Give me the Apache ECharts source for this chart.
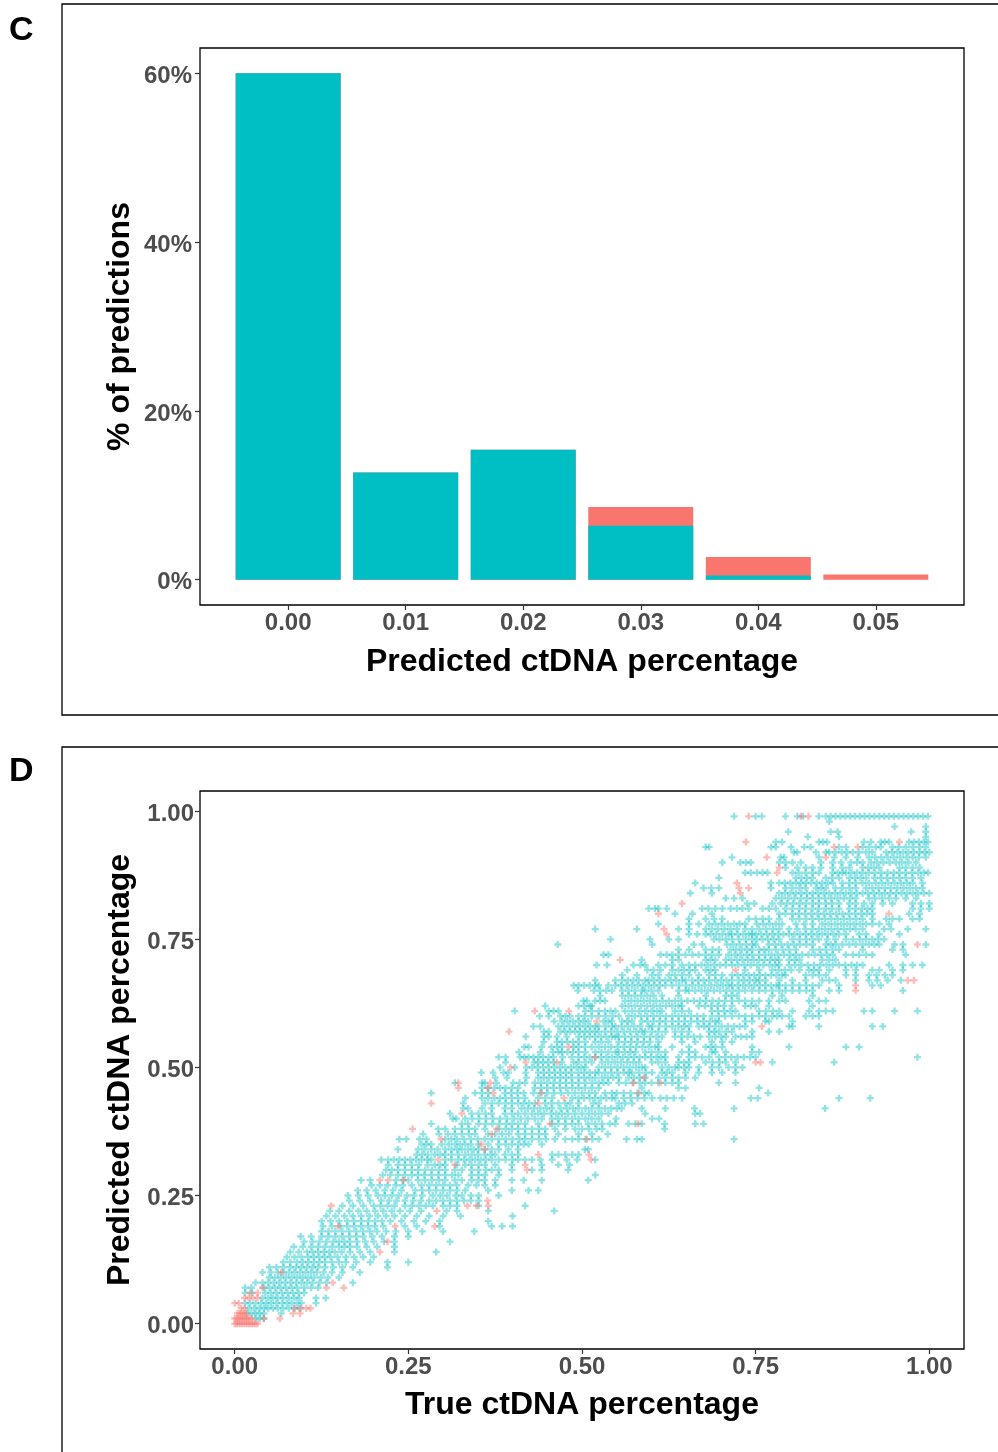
<!DOCTYPE html>
<html>
<head>
<meta charset="utf-8">
<script src="https://cdn.jsdelivr.net/npm/echarts@6/dist/echarts.min.js"></script>
<style>
  html, body { margin: 0; padding: 0; background: #fff; }
  #main { width: 998px; height: 1452px; }
</style>
</head>
<body>
<div id="main"></div>
<script>
// panel C: share of predictions per predicted bin (in %)
var predBins = [0, 0.01, 0.02, 0.03, 0.04, 0.05];
var cyanPct = [60.0, 12.7, 15.4, 6.4, 0.5, 0];
var redPct = [0, 0, 0, 2.2, 2.2, 0.6];
var pctTicks = [0, 20, 40, 60];

// panel D: true vs predicted
// index = predicted value in hundredths, entries = true value in thousandths
var cyanRows = [
  [],
  [30, 36, 42],
  [18, 24, 30, 36, 42, 67],
  [20, 28, 35, 42, 48, 55, 62, 70, 78, 86, 93],
  [15, 22, 30, 38, 45, 52, 60, 68, 75, 82, 90, 96, 117],
  [40, 48, 55, 62, 70, 78, 86, 93, 117, 131],
  [15, 25, 44, 52, 60, 68, 76, 84, 92, 100],
  [15, 24, 42, 50, 58, 66, 74, 82, 90, 100, 110, 120],
  [30, 40, 48, 56, 64, 72, 80, 88, 96, 104, 112, 122, 132, 170],
  [50, 58, 66, 74, 82, 90, 98, 106, 114, 124, 134, 150],
  // 0.10
  [40, 52, 62, 70, 78, 86, 94, 102, 110, 118, 128, 140, 155, 180],
  [50, 60, 70, 80, 88, 96, 104, 112, 120, 130, 142, 155, 170, 220],
  [70, 80, 90, 98, 106, 114, 122, 130, 140, 150, 160, 175, 195, 220, 250],
  [75, 86, 96, 106, 114, 122, 130, 138, 148, 160, 172, 185, 200],
  [80, 92, 104, 112, 120, 128, 136, 144, 154, 166, 180, 195, 230, 290],
  [85, 98, 110, 120, 130, 140, 150, 158, 166, 176, 190, 205, 230],
  [100, 112, 122, 132, 142, 150, 158, 166, 176, 188, 200, 215, 230, 310],
  [95, 110, 125, 135, 145, 155, 165, 175, 185, 198, 212, 230, 250],
  [125, 135, 145, 155, 165, 175, 185, 195, 205, 218, 232, 250, 270, 300, 345],
  [127, 140, 152, 162, 172, 182, 192, 202, 214, 245, 262, 295, 370, 385, 400],
  // 0.20
  [125, 138, 150, 162, 172, 182, 192, 202, 212, 224, 240, 258, 275, 295, 365],
  [132, 145, 158, 170, 182, 194, 206, 218, 230, 245, 262, 280, 300, 325, 400],
  [137, 150, 165, 178, 190, 202, 214, 226, 238, 252, 268, 305, 320, 365, 460],
  [155, 170, 185, 200, 210, 220, 230, 245, 255, 265, 275, 285, 300, 310, 320, 351, 418],
  [165, 180, 195, 211, 222, 233, 245, 257, 268, 280, 290, 300, 310, 320, 330, 340, 351],
  [163, 178, 192, 206, 216, 226, 236, 248, 258, 270, 285, 296, 306, 318, 327, 340, 351, 380],
  [177, 190, 203, 216, 228, 240, 260, 270, 280, 290, 300, 310, 320, 332, 365, 399, 423, 437],
  [197, 209, 220, 232, 242, 255, 269, 280, 290, 300, 310, 320, 336, 348, 360, 375],
  [182, 195, 232, 242, 250, 264, 274, 284, 294, 303, 317, 327, 341, 351, 360, 375, 399, 416, 442, 509],
  [213, 224, 235, 245, 255, 264, 273, 283, 293, 303, 313, 322, 341, 351, 360, 380, 519],
  // 0.30
  [218, 226, 235, 245, 255, 264, 274, 284, 294, 303, 317, 327, 341, 351, 362, 370, 380, 399, 428, 442, 480],
  [221, 235, 245, 255, 265, 278, 288, 296, 303, 320, 332, 341, 351, 360, 375, 399, 442, 466, 482],
  [211, 221, 229, 237, 245, 253, 261, 269, 277, 283, 303, 312, 322, 330, 338, 346, 354, 362, 370, 380, 390, 400, 408, 418, 428, 440, 457, 478, 493, 519],
  [262, 270, 278, 288, 296, 303, 312, 322, 332, 341, 350, 360, 368, 375, 389, 399, 408, 457, 466, 476, 486, 495],
  [235, 264, 273, 283, 292, 303, 312, 320, 327, 336, 344, 351, 360, 370, 380, 394, 408, 504, 509],
  [269, 276, 283, 298, 308, 317, 324, 332, 340, 351, 365, 380, 390, 399, 408, 416, 423, 442],
  [237, 247, 266, 276, 303, 312, 320, 330, 340, 350, 360, 370, 380, 390, 400, 410, 418, 428, 438, 448, 461, 476, 486, 495, 505, 515, 524, 564, 579, 586, 719],
  [271, 294, 307, 317, 327, 337, 346, 365, 375, 385, 395, 408, 418, 428, 438, 447, 466, 495, 514, 537],
  [293, 303, 317, 327, 337, 346, 360, 380, 390, 399, 408, 418, 428, 438, 447, 461, 476, 490, 500, 510, 521, 529, 619],
  [283, 327, 336, 351, 361, 371, 381, 391, 399, 408, 418, 437, 457, 466, 476, 486, 495, 509, 519, 529, 540, 548, 567, 577, 586, 619, 663, 675],
  // 0.40
  [314, 319, 332, 342, 352, 362, 372, 382, 392, 402, 412, 422, 432, 442, 457, 466, 476, 486, 495, 505, 514, 524, 549, 601, 611],
  [310, 341, 351, 361, 370, 389, 399, 408, 418, 428, 437, 445, 455, 463, 471, 480, 490, 500, 510, 519, 528, 538, 591, 663, 670],
  [329, 336, 356, 370, 389, 399, 413, 422, 431, 440, 449, 457, 469, 478, 487, 495, 505, 514, 524, 533, 542, 550, 557, 586, 620, 662, 719, 850],
  [329, 360, 370, 380, 390, 399, 408, 416, 424, 432, 447, 456, 466, 476, 483, 495, 516, 524, 553, 562, 572],
  [332, 356, 365, 374, 382, 390, 399, 408, 418, 437, 447, 457, 486, 495, 503, 511, 519, 527, 535, 543, 548, 560, 570, 580, 590, 601, 613, 622, 632, 644, 743, 753, 870, 915],
  [283, 346, 356, 365, 389, 398, 407, 416, 430, 440, 450, 460, 470, 480, 490, 500, 510, 519, 533, 543, 550, 560, 570, 580, 590, 596, 768],
  [356, 365, 374, 382, 390, 399, 408, 432, 441, 450, 459, 468, 477, 486, 495, 504, 514, 524, 586, 639, 649, 755],
  [317, 356, 360, 377, 401, 410, 418, 432, 441, 450, 459, 468, 477, 486, 495, 505, 515, 524, 531, 538, 553, 563, 573, 583, 591, 600, 610, 620, 630, 639, 697, 721],
  [375, 392, 420, 437, 445, 453, 461, 469, 477, 485, 495, 503, 511, 519, 529, 537, 545, 553, 567, 575, 583, 591, 610, 620, 630, 639, 649, 663],
  [355, 372, 387, 394, 419, 437, 445, 453, 461, 469, 477, 485, 495, 503, 511, 519, 524, 533, 542, 551, 560, 567, 572, 582, 592, 601, 615, 622, 630, 649, 668, 687, 702, 721],
  // 0.50
  [382, 403, 420, 428, 436, 444, 452, 460, 468, 476, 484, 492, 499, 505, 524, 533, 542, 551, 560, 569, 578, 586, 591, 615, 625, 634, 639, 647, 654, 668, 687, 697, 711, 721, 731],
  [390, 431, 437, 444, 451, 459, 471, 488, 495, 505, 514, 529, 538, 547, 556, 565, 574, 582, 601, 610, 620, 639, 647, 654, 678, 688, 698, 707, 721, 774, 863],
  [380, 390, 411, 417, 423, 430, 437, 444, 452, 459, 472, 485, 495, 503, 511, 519, 527, 535, 543, 551, 559, 567, 575, 583, 591, 599, 607, 614, 620, 639, 654, 663, 673, 683, 697, 706, 715, 724, 733, 742, 750, 983],
  [409, 440, 458, 466, 471, 479, 487, 495, 505, 519, 528, 538, 548, 553, 562, 570, 577, 591, 600, 610, 620, 644, 654, 663, 687, 692, 707, 745, 755],
  [417, 423, 442, 456, 464, 471, 488, 495, 504, 514, 524, 533, 542, 551, 560, 569, 578, 587, 596, 605, 610, 630, 654, 678, 685, 692, 702, 745, 798, 880, 899],
  [445, 464, 471, 479, 487, 495, 505, 519, 528, 538, 553, 562, 571, 580, 589, 598, 610, 644, 663, 687, 702, 716],
  [419, 445, 452, 464, 478, 495, 503, 511, 519, 527, 535, 543, 548, 553, 562, 571, 580, 589, 598, 607, 615, 634, 643, 652, 661, 670, 683, 692, 700, 707, 721, 729, 737, 745],
  [445, 452, 469, 476, 483, 490, 497, 504, 511, 518, 524, 533, 542, 551, 560, 569, 578, 586, 591, 601, 610, 620, 634, 644, 654, 683, 690, 697, 707, 716, 745, 769, 784],
  [430, 440, 466, 474, 482, 490, 497, 505, 512, 519, 524, 534, 543, 548, 557, 566, 575, 584, 596, 601, 611, 621, 630, 639, 647, 654, 668, 676, 683, 692, 701, 710, 719, 727, 735, 798, 803, 841, 918, 933],
  [460, 471, 479, 487, 495, 502, 509, 531, 538, 543, 558, 565, 572, 586, 594, 603, 612, 620, 630, 639, 648, 657, 666, 675, 684, 692, 697, 735, 745, 764, 769, 803],
  // 0.60
  [439, 452, 469, 476, 483, 495, 504, 514, 524, 534, 544, 553, 567, 576, 585, 594, 603, 612, 621, 630, 639, 648, 657, 666, 675, 687, 697, 706, 716, 726, 735, 745, 755, 764, 774, 781, 788, 798, 822, 832, 841],
  [403, 452, 459, 466, 505, 514, 524, 533, 541, 548, 562, 572, 582, 591, 600, 608, 615, 634, 644, 654, 687, 696, 705, 713, 721, 755, 765, 775, 784, 803, 827, 841, 851, 861, 906, 918, 950, 983],
  [447, 495, 503, 511, 514, 558, 567, 576, 585, 594, 603, 612, 621, 630, 639, 644, 668, 677, 686, 695, 704, 716, 735, 743, 750, 769, 832],
  [502, 507, 519, 526, 533, 562, 571, 580, 589, 598, 607, 616, 625, 634, 643, 652, 661, 670, 679, 688, 697, 706, 716, 726, 735, 745, 755, 769, 784, 793, 827, 841, 851],
  [526, 558, 567, 576, 585, 594, 603, 615, 639, 678, 707, 715, 723, 774, 788, 832],
  [494, 517, 526, 535, 543, 558, 567, 576, 586, 591, 600, 610, 639, 649, 654, 663, 672, 681, 690, 699, 708, 717, 726, 735, 745, 755, 764, 774, 784, 793, 803, 813, 823, 832, 856, 870, 962],
  [488, 495, 503, 511, 519, 524, 538, 548, 556, 564, 572, 580, 588, 596, 604, 612, 620, 630, 640, 650, 659, 668, 677, 686, 695, 703, 711, 716, 724, 732, 740, 748, 756, 764, 772, 780, 784, 793, 803, 813, 823, 832, 841, 870, 918, 930],
  [519, 548, 558, 566, 574, 582, 591, 596, 604, 612, 620, 628, 636, 644, 649, 659, 667, 675, 683, 692, 700, 708, 716, 726, 734, 742, 750, 755, 764, 784, 803, 822, 846, 856, 865, 894, 913, 925, 940, 959],
  [558, 579, 601, 610, 625, 634, 644, 654, 668, 683, 692, 702, 716, 724, 732, 740, 748, 756, 764, 772, 780, 788, 793, 822, 832, 841, 851, 880, 894, 913, 924, 936, 947],
  [565, 594, 603, 613, 630, 639, 647, 655, 663, 678, 685, 692, 735, 755, 774, 783, 792, 801, 813, 827, 834, 841, 856, 880, 894, 918, 928, 947, 962],
  // 0.70
  [521, 536, 574, 584, 591, 610, 620, 630, 644, 654, 663, 672, 681, 690, 699, 707, 716, 725, 734, 743, 752, 761, 770, 778, 784, 798, 807, 816, 825, 834, 843, 852, 861, 870, 879, 888, 896, 904, 942, 962, 976, 990],
  [586, 630, 639, 678, 685, 692, 707, 715, 723, 731, 739, 747, 755, 763, 771, 778, 784, 798, 806, 813, 846, 856, 865],
  [531, 538, 613, 622, 630, 639, 649, 659, 668, 678, 687, 697, 711, 720, 728, 737, 745, 755, 764, 773, 782, 791, 800, 808, 817, 826, 835, 844, 853, 861, 880, 890, 899, 909, 918, 966],
  [639, 654, 678, 688, 697, 714, 722, 730, 738, 745, 755, 762, 769, 779, 789, 798, 808, 832, 842, 851, 861, 870, 904, 947, 962],
  [465, 601, 661, 673, 709, 718, 727, 736, 745, 750, 769, 778, 787, 796, 805, 814, 823, 832, 851, 858, 865, 875, 885, 894, 904, 913, 921, 928, 950, 962, 995],
  [541, 598, 625, 639, 690, 698, 707, 716, 726, 736, 745, 752, 760, 768, 776, 784, 803, 813, 823, 832, 841, 853, 865, 880, 890, 900, 909, 918, 926, 935],
  [654, 666, 678, 685, 693, 702, 711, 716, 724, 732, 740, 745, 750, 758, 766, 774, 782, 790, 798, 806, 814, 822, 830, 838, 846, 854, 862, 870, 880, 899, 909, 928, 957],
  [519, 579, 639, 654, 678, 687, 696, 705, 714, 723, 735, 745, 755, 765, 775, 784, 798, 810, 822, 832, 841, 850, 859, 868, 877, 886, 894, 904, 935, 945, 969, 995],
  [610, 654, 668, 683, 692, 701, 710, 719, 727, 735, 752, 761, 770, 779, 788, 808, 820, 832, 846, 855, 864, 873, 882, 891, 900, 909, 918, 928, 942],
  [654, 678, 690, 702, 740, 750, 760, 769, 784, 803, 813, 823, 832, 841, 850, 859, 868, 877, 886, 895, 904, 918, 938, 947, 957, 976, 986],
  // 0.80
  [634, 659, 687, 784, 793, 803, 812, 821, 830, 839, 848, 857, 866, 875, 884, 893, 902, 910, 918, 971, 986],
  [596, 605, 610, 622, 673, 682, 692, 702, 714, 723, 731, 740, 760, 769, 779, 793, 803, 813, 822, 832, 841, 851, 860, 870, 885, 894, 903, 911, 918, 976, 988, 1000],
  [738, 748, 774, 786, 795, 804, 813, 822, 832, 841, 851, 860, 870, 885, 894, 906, 918, 933, 947, 976, 988, 1000],
  [707, 719, 731, 779, 788, 797, 806, 815, 824, 832, 841, 850, 859, 868, 877, 886, 894, 913, 922, 932, 942, 952, 966, 981],
  [656, 687, 784, 792, 800, 808, 816, 824, 832, 840, 848, 856, 864, 872, 880, 888, 896, 904, 912, 920, 928, 936, 944, 952, 960, 968, 976, 984, 992, 1000],
  [675, 686, 697, 772, 793, 803, 813, 822, 837, 844, 851, 865, 875, 885, 894, 909, 918, 927, 936, 945, 954, 963, 972, 981, 990],
  [663, 772, 784, 792, 800, 808, 815, 822, 830, 838, 846, 854, 861, 875, 885, 894, 904, 913, 923, 932, 941, 950, 959, 968, 976, 990],
  [697, 808, 816, 824, 832, 851, 860, 870, 885, 893, 901, 909, 921, 930, 939, 948, 957, 966, 976, 988],
  [735, 743, 752, 760, 767, 803, 812, 822, 832, 841, 861, 868, 875, 880, 888, 896, 904, 913, 922, 931, 940, 949, 957, 966, 975, 984, 992, 998],
  [793, 810, 822, 832, 844, 861, 875, 885, 904, 912, 920, 928, 957, 966, 976, 986],
  // 0.90
  [702, 728, 736, 743, 784, 793, 803, 815, 844, 861, 873, 887, 896, 904, 916, 925, 934, 943, 952, 961, 970, 981],
  [716, 786, 791, 841, 863, 880, 897, 913, 922, 931, 940, 949, 958, 967, 976, 985, 995],
  [805, 810, 837, 851, 856, 865, 874, 882, 890, 899, 909, 918, 938, 946, 954, 962, 970, 978, 986, 993, 1000],
  [678, 683, 772, 779, 801, 820, 829, 870, 880, 904, 913, 923, 930, 947, 956, 966, 976, 986, 995],
  [779, 788, 841, 847, 853, 906, 916, 930, 936, 942, 971, 978, 985, 992, 998],
  [825, 870, 995],
  [797, 858, 868, 974, 995],
  [950, 995],
  [856],
  [719, 750, 759, 793, 810, 818, 841, 851, 858, 865, 872, 879, 886, 893, 900, 907, 914, 921, 928, 935, 942, 949, 956, 963, 970, 977, 984, 991, 998]
];

// red points: [true value in thousandths, predicted value in hundredths]
var redPts = [
  [0, 0], [3, 0], [6, 0], [9, 0], [12, 0], [15, 0], [18, 0], [21, 0], [24, 0], [27, 0], [30, 0], [33, 0],
  [0, 1], [3, 1], [6, 1], [9, 1], [12, 1], [15, 1], [18, 1], [21, 1], [25, 1], [42, 1], [65, 1],
  [4, 2], [7, 2], [10, 2], [13, 2], [16, 2], [84, 2], [94, 2],
  [9, 3], [14, 3], [86, 3], [95, 3], [103, 3], [109, 3],
  [0, 4], [6, 4], [14, 5], [20, 5], [26, 5], [33, 5], [22, 6], [33, 6],
  [40, 7], [132, 7], [157, 7], [141, 8], [67, 10],
  [209, 14], [220, 16], [149, 19], [231, 19], [288, 19], [291, 22],
  [139, 23], [335, 23], [348, 23], [365, 23], [364, 24],
  [209, 28], [221, 28], [243, 28], [421, 30], [317, 31], [418, 31],
  [293, 32], [513, 32], [437, 33], [510, 33], [360, 34], [355, 35],
  [297, 36], [507, 36], [370, 37], [256, 38], [377, 38], [454, 39], [581, 39],
  [327, 41], [283, 43], [437, 43], [474, 44], [372, 45], [442, 45], [582, 45],
  [322, 46], [364, 46], [322, 47], [368, 47], [574, 47], [613, 47], [589, 48],
  [397, 50], [419, 51], [464, 51], [750, 51], [757, 51], [519, 52], [481, 54],
  [395, 57], [759, 58], [521, 59], [432, 61], [481, 61], [894, 65], [894, 66],
  [969, 67], [978, 67], [721, 69], [555, 71], [983, 74], [622, 76], [618, 77],
  [610, 80], [942, 80], [644, 82], [728, 84], [726, 85], [740, 85], [723, 86],
  [781, 88], [784, 89], [766, 91], [851, 91], [863, 93], [897, 93], [736, 94],
  [957, 94], [740, 99], [815, 99], [826, 99]
];
var unitTicks = [0, 0.25, 0.5, 0.75, 1];

var cyanPts = [];
cyanRows.forEach(function (xs, i) {
  xs.forEach(function (x) { cyanPts.push([x / 1000, i / 100]); });
});
var redData = redPts.map(function (p) { return [p[0] / 1000, p[1] / 100]; });
// red sits on top of cyan in each bin: draw the total first, cyan over it
var totalPct = cyanPct.map(function (v, i) { return v + redPct[i]; });

var font = "'Liberation Sans', Arial, sans-serif";
var plus = 'path://M2,0H4V2H6V4H4V6H2V4H0V2H2Z';

function tickLabel(fmt, margin, nudge) {
  var s = {
    color: '#4D4D4D', fontWeight: 'bold', fontSize: 24, fontFamily: font,
    margin: margin, formatter: fmt
  };
  if (nudge) {
    // y labels: drop the text a few px so the digits sit centred on the tick
    s.verticalAlign = 'top';
    s.lineHeight = 6;
  }
  return s;
}
var nameStyle = { color: '#000', fontWeight: 'bold', fontSize: 32, fontFamily: font };
var tickStyle = { show: true, length: 5, lineStyle: { color: '#333', width: 1.2 } };
var noLine = { show: false, onZero: false };

var dom = document.getElementById('main');
var chart = echarts.init(dom, null, { renderer: 'canvas' });
var option = {
  backgroundColor: '#fff',
  animation: false,
  graphic: [
    { type: 'rect', shape: { x: 62, y: 4, width: 960, height: 711 }, style: { fill: 'none', stroke: '#000', lineWidth: 1.3 } },
    { type: 'rect', shape: { x: 62, y: 747, width: 960, height: 740 }, style: { fill: 'none', stroke: '#000', lineWidth: 1.3 } },
    { type: 'text', left: 9, top: 14, style: { text: 'C', font: 'bold 34px ' + font, fill: '#000' } },
    { type: 'text', left: 9, top: 755, style: { text: 'D', font: 'bold 34px ' + font, fill: '#000' } }
  ],
  grid: [
    { left: 200, top: 48, width: 764, height: 557, show: true, borderColor: '#000', borderWidth: 1.3, backgroundColor: '#fff' },
    { left: 200, top: 791, width: 764, height: 558, show: true, borderColor: '#000', borderWidth: 1.3, backgroundColor: '#fff' }
  ],
  xAxis: [
    {
      gridIndex: 0, type: 'value', min: -0.0075, max: 0.0575,
      name: 'Predicted ctDNA percentage', nameLocation: 'middle', nameGap: 41, nameTextStyle: nameStyle,
      axisLine: noLine, splitLine: { show: false },
      axisTick: Object.assign({ customValues: predBins }, tickStyle),
      axisLabel: Object.assign({ customValues: predBins }, tickLabel(function (v) { return v.toFixed(2); }, 6))
    },
    {
      gridIndex: 1, type: 'value', min: -0.05, max: 1.05,
      name: 'True ctDNA percentage', nameLocation: 'middle', nameGap: 40, nameTextStyle: nameStyle,
      axisLine: noLine, splitLine: { show: false },
      axisTick: Object.assign({ customValues: unitTicks }, tickStyle),
      axisLabel: Object.assign({ customValues: unitTicks }, tickLabel(function (v) { return v.toFixed(2); }, 6))
    }
  ],
  yAxis: [
    {
      gridIndex: 0, type: 'value', min: -3, max: 63,
      name: '% of predictions', nameLocation: 'middle', nameGap: 64, nameMoveOverlap: false, nameTextStyle: nameStyle,
      axisLine: noLine, splitLine: { show: false },
      axisTick: Object.assign({ customValues: pctTicks }, tickStyle),
      axisLabel: Object.assign({ customValues: pctTicks }, tickLabel(function (v) { return v + '%'; }, 8, true))
    },
    {
      gridIndex: 1, type: 'value', min: -0.0495, max: 1.0395,
      name: 'Predicted ctDNA percentage', nameLocation: 'middle', nameGap: 64, nameMoveOverlap: false, nameTextStyle: nameStyle,
      axisLine: noLine, splitLine: { show: false },
      axisTick: Object.assign({ customValues: unitTicks }, tickStyle),
      axisLabel: Object.assign({ customValues: unitTicks }, tickLabel(function (v) { return v.toFixed(2); }, 6, true))
    }
  ],
  series: [
    {
      type: 'bar', xAxisIndex: 0, yAxisIndex: 0, barWidth: 105, barGap: '-100%',
      itemStyle: { color: '#F8766D' },
      data: predBins.map(function (b, i) { return [b, totalPct[i]]; })
    },
    {
      type: 'bar', xAxisIndex: 0, yAxisIndex: 0, barWidth: 105, barGap: '-100%',
      itemStyle: { color: '#00BFC4' },
      data: predBins.map(function (b, i) { return [b, cyanPct[i]]; })
    },
    {
      type: 'scatter', xAxisIndex: 1, yAxisIndex: 1, symbol: plus, symbolSize: 7,
      itemStyle: { color: 'rgba(0,191,196,0.55)' },
      data: cyanPts
    },
    {
      type: 'scatter', xAxisIndex: 1, yAxisIndex: 1, symbol: plus, symbolSize: 7,
      itemStyle: { color: 'rgba(248,118,109,0.6)' },
      data: redData
    }
  ]
};
chart.setOption(option);
</script>
</body>
</html>
